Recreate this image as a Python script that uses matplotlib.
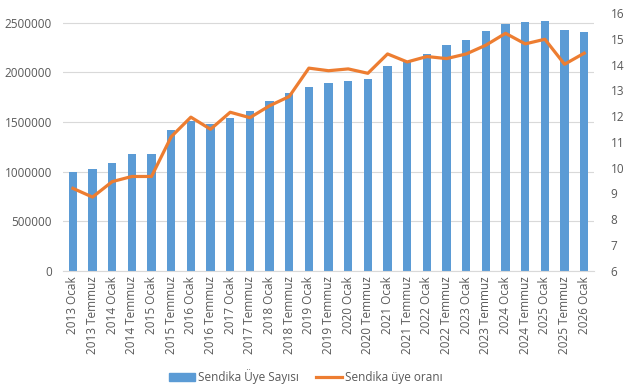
import numpy as np
import matplotlib.pyplot as plt
from matplotlib import ticker
from matplotlib.lines import Line2D
from matplotlib.patches import Patch

plt.rcParams['font.family'] = ['Open Sans', 'DejaVu Sans']

years = list(range(2013, 2027))
labels = []
for y in years:
    labels.append(f"{y} Ocak")
    if y < 2026:
        labels.append(f"{y} Temmuz")

members = [1000000, 1025000, 1092000, 1183000, 1183000, 1425000, 1509000,
           1482000, 1542000, 1616000, 1710000, 1797000, 1858000, 1892000,
           1915000, 1939000, 2067000, 2110000, 2188000, 2275000, 2325000,
           2416000, 2490000, 2507000, 2523000, 2426000, 2406000]

rate = [9.20, 8.86, 9.46, 9.66, 9.66, 11.20, 11.96, 11.49, 12.15, 11.94,
        12.40, 12.76, 13.86, 13.76, 13.83, 13.66, 14.41, 14.10, 14.31,
        14.23, 14.41, 14.75, 15.21, 14.80, 14.98, 14.01, 14.44]

bar_color = '#5B9BD5'
line_color = '#ED7D31'
text_color = '#595959'

fig = plt.figure(figsize=(6.24, 3.92), dpi=100)
ax = fig.add_axes([0.101, 0.309, 0.851, 0.658])
x = np.arange(len(labels))

ax.bar(x, members, width=0.42, color=bar_color, zorder=2)
ax.set_xlim(-0.5, len(labels) - 0.5)
ax.set_ylim(0, 2600000)
ax.set_yticks(np.arange(0, 2500001, 500000))
ax.yaxis.set_major_formatter(ticker.FuncFormatter(lambda v, p: f"{int(v)}"))
ax.yaxis.grid(True, color='#D9D9D9', linewidth=0.8, zorder=0)
ax.set_axisbelow(True)
ax.set_xticks(x)
ax.set_xticklabels(labels, rotation=90, fontsize=8.5, color=text_color)
ax.tick_params(axis='y', labelsize=8.5, colors=text_color, length=0, pad=8)
ax.tick_params(axis='x', length=0, pad=4)
for s in ['top', 'left', 'right']:
    ax.spines[s].set_visible(False)
ax.spines['bottom'].set_color('#D9D9D9')

ax2 = ax.twinx()
ax2.plot(x, rate, color=line_color, linewidth=2.3, zorder=3)
ax2.set_ylim(6, 16)
ax2.set_yticks(np.arange(6, 17, 1))
ax2.tick_params(axis='y', labelsize=8.5, colors=text_color, length=0, pad=12)
for s in ['top', 'left', 'right', 'bottom']:
    ax2.spines[s].set_visible(False)

handles = [Patch(color=bar_color), Line2D([0], [0], color=line_color, linewidth=2.3)]
fig.legend(handles, ['Sendika Üye Sayısı', 'Sendika üye oranı'], loc='center',
           bbox_to_anchor=(0.49, 0.04), ncol=2, frameon=False, fontsize=8.5,
           labelcolor=text_color, handlelength=2.2, handletextpad=0.2,
           columnspacing=1.5)

fig.savefig('out.png', dpi=100)
